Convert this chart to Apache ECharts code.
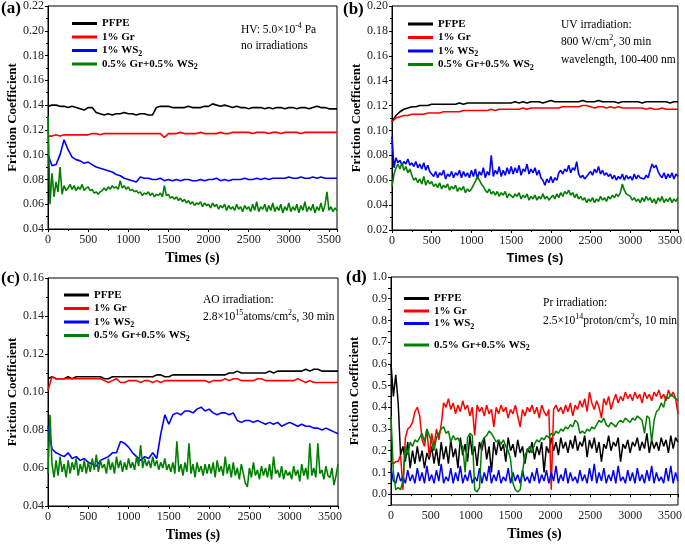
<!DOCTYPE html>
<html><head><meta charset="utf-8">
<script src="https://cdn.jsdelivr.net/npm/echarts@6/dist/echarts.min.js"></script>
<style>html,body{margin:0;padding:0;background:#fff}#c{width:685px;height:545px}</style>
</head><body><div id="c"></div>
<script>
const seriesNames = ['PFPE', '1% Gr', '1% WS2', '0.5% Gr+0.5% WS2'];
const seriesColors = ['#000000', '#ff0000', '#0000ff', '#008000'];

// sampling times (s)
const timeABC = []; for (let t = 0; t <= 3600; t += 50) timeABC.push(t);
const timeFine = []; for (let t = 0; t <= 3600; t += 25) timeFine.push(t);
const timeD = []; for (let t = 0; t <= 3600; t += 30) timeD.push(t);

// ---- panel (a): HV, no irradiation ----
const pfpeA = [0.139,0.140,0.140,0.139,0.139,0.138,0.139,0.138,0.137,0.136,
0.138,0.138,0.134,0.133,0.132,0.133,0.132,0.133,0.133,0.134,
0.133,0.133,0.132,0.133,0.133,0.132,0.132,0.138,0.139,0.139,
0.139,0.138,0.138,0.138,0.138,0.139,0.138,0.138,0.138,0.139,
0.139,0.141,0.140,0.139,0.140,0.139,0.138,0.139,0.138,0.138,
0.137,0.138,0.138,0.138,0.137,0.138,0.137,0.138,0.138,0.137,
0.138,0.138,0.137,0.138,0.138,0.137,0.138,0.139,0.138,0.138,
0.137,0.137,0.137];
const grA = [0.115,0.115,0.116,0.115,0.116,0.116,0.116,0.116,0.116,0.116,
0.116,0.117,0.117,0.116,0.117,0.117,0.117,0.117,0.117,0.117,
0.117,0.117,0.117,0.117,0.117,0.117,0.117,0.117,0.117,0.114,
0.117,0.117,0.117,0.118,0.117,0.117,0.117,0.117,0.118,0.117,
0.117,0.117,0.117,0.118,0.117,0.117,0.118,0.118,0.118,0.118,
0.118,0.117,0.118,0.118,0.118,0.117,0.118,0.118,0.117,0.118,
0.118,0.118,0.118,0.117,0.118,0.118,0.118,0.118,0.118,0.118,
0.118,0.118,0.118];
const ws2A = [0.100,0.091,0.092,0.100,0.112,0.104,0.098,0.096,0.095,0.093,
0.094,0.092,0.090,0.089,0.088,0.087,0.086,0.084,0.083,0.081,
0.080,0.079,0.078,0.082,0.081,0.081,0.080,0.080,0.081,0.079,
0.080,0.079,0.080,0.079,0.080,0.080,0.079,0.079,0.080,0.079,
0.080,0.080,0.081,0.079,0.080,0.079,0.080,0.080,0.080,0.081,
0.080,0.080,0.081,0.080,0.081,0.080,0.081,0.081,0.081,0.081,
0.082,0.081,0.081,0.082,0.081,0.081,0.082,0.081,0.082,0.081,
0.081,0.081,0.081];
const mixA = [0.131,0.060,0.085,0.066,0.078,0.070,0.090,0.068,0.075,0.071,0.073,0.076,0.072,0.075,0.071,0.074,0.072,0.076,0.071,0.073,
0.074,0.071,0.072,0.069,0.070,0.068,0.070,0.071,0.073,0.071,0.074,0.072,0.075,0.073,0.074,0.072,0.079,0.073,0.075,0.072,
0.074,0.071,0.072,0.070,0.071,0.069,0.070,0.067,0.069,0.068,0.070,0.067,0.069,0.066,0.068,0.067,0.069,0.066,0.075,0.067,
0.068,0.065,0.066,0.064,0.066,0.063,0.065,0.062,0.064,0.061,0.063,0.060,0.062,0.059,0.061,0.060,0.062,0.058,0.061,0.059,
0.060,0.057,0.061,0.058,0.060,0.056,0.059,0.057,0.060,0.055,0.059,0.056,0.058,0.055,0.060,0.056,0.058,0.054,0.059,0.056,
0.058,0.054,0.060,0.055,0.062,0.054,0.058,0.056,0.060,0.054,0.059,0.055,0.061,0.054,0.058,0.055,0.060,0.053,0.058,0.055,
0.061,0.054,0.058,0.055,0.060,0.053,0.059,0.055,0.062,0.054,0.058,0.055,0.060,0.053,0.058,0.055,0.061,0.054,0.059,0.070,
0.055,0.058,0.054,0.057,0.055];

// ---- panel (b): UV irradiation ----
const pfpeB = [0.107,0.112,0.115,0.117,0.118,0.119,0.119,0.120,0.120,0.120,
0.121,0.121,0.121,0.121,0.121,0.121,0.121,0.122,0.121,0.122,
0.122,0.122,0.122,0.122,0.122,0.122,0.122,0.122,0.122,0.122,
0.122,0.123,0.122,0.123,0.122,0.123,0.123,0.123,0.122,0.123,
0.124,0.123,0.123,0.123,0.123,0.123,0.123,0.123,0.124,0.123,
0.123,0.123,0.124,0.123,0.123,0.123,0.123,0.122,0.123,0.123,
0.123,0.123,0.123,0.122,0.123,0.123,0.123,0.123,0.123,0.123,
0.122,0.123,0.123];
const grB = [0.107,0.110,0.111,0.112,0.112,0.113,0.113,0.113,0.113,0.114,
0.114,0.114,0.114,0.115,0.115,0.115,0.115,0.115,0.116,0.116,
0.116,0.116,0.116,0.116,0.116,0.117,0.116,0.117,0.117,0.117,
0.117,0.117,0.117,0.118,0.117,0.118,0.118,0.118,0.118,0.118,
0.118,0.118,0.118,0.119,0.119,0.119,0.119,0.119,0.120,0.120,
0.119,0.118,0.119,0.119,0.118,0.119,0.118,0.119,0.118,0.118,
0.118,0.118,0.118,0.118,0.117,0.118,0.117,0.117,0.118,0.117,
0.117,0.117,0.117];
const ws2B = [0.095,0.070,0.078,0.074,0.076,0.072,0.075,0.073,0.077,0.072,0.074,0.071,0.075,0.070,0.073,0.069,0.074,0.068,0.072,0.067,
0.066,0.063,0.067,0.062,0.066,0.064,0.068,0.061,0.065,0.063,0.067,0.062,0.066,0.064,0.068,0.062,0.067,0.063,0.066,0.062,
0.068,0.063,0.069,0.061,0.067,0.064,0.070,0.062,0.067,0.064,0.080,0.063,0.068,0.065,0.071,0.063,0.068,0.064,0.070,0.065,
0.071,0.065,0.070,0.066,0.072,0.064,0.069,0.067,0.073,0.065,0.069,0.066,0.070,0.064,0.068,0.062,0.060,0.056,0.061,0.058,
0.063,0.058,0.062,0.060,0.066,0.068,0.065,0.069,0.067,0.072,0.066,0.070,0.068,0.075,0.065,0.062,0.064,0.061,0.063,0.062,
0.067,0.064,0.069,0.066,0.071,0.065,0.068,0.064,0.066,0.063,0.065,0.061,0.064,0.060,0.063,0.061,0.065,0.060,0.064,0.061,
0.063,0.060,0.065,0.061,0.064,0.062,0.063,0.061,0.064,0.062,0.068,0.073,0.070,0.072,0.067,0.064,0.062,0.066,0.061,0.065,
0.062,0.066,0.061,0.065,0.063];
const mixB = [0.055,0.065,0.070,0.073,0.069,0.074,0.068,0.071,0.066,0.069,0.064,0.060,0.062,0.058,0.061,0.057,0.063,0.056,0.060,0.057,
0.059,0.055,0.057,0.054,0.058,0.053,0.056,0.054,0.057,0.052,0.055,0.053,0.056,0.051,0.054,0.052,0.055,0.050,0.053,0.051,
0.053,0.056,0.059,0.063,0.060,0.057,0.055,0.052,0.050,0.053,0.049,0.051,0.048,0.051,0.047,0.050,0.048,0.051,0.046,0.049,
0.050,0.046,0.049,0.047,0.050,0.045,0.048,0.046,0.049,0.044,0.047,0.045,0.048,0.044,0.047,0.045,0.049,0.045,0.047,0.044,
0.046,0.048,0.045,0.049,0.046,0.050,0.047,0.051,0.049,0.052,0.048,0.050,0.046,0.049,0.045,0.047,0.044,0.046,0.042,0.045,
0.043,0.046,0.042,0.045,0.043,0.047,0.044,0.046,0.043,0.047,0.045,0.048,0.046,0.049,0.047,0.050,0.057,0.052,0.049,0.050,
0.047,0.044,0.046,0.043,0.045,0.042,0.046,0.043,0.047,0.044,0.046,0.042,0.045,0.041,0.046,0.043,0.047,0.042,0.045,0.043,
0.046,0.042,0.045,0.043,0.046];

// ---- panel (c): AO irradiation ----
const pfpeC = [0.107,0.108,0.107,0.107,0.107,0.108,0.107,0.108,0.108,0.108,
0.108,0.108,0.108,0.108,0.107,0.107,0.108,0.108,0.108,0.108,
0.108,0.108,0.108,0.108,0.108,0.108,0.108,0.109,0.109,0.108,
0.108,0.109,0.109,0.109,0.109,0.109,0.109,0.109,0.109,0.109,
0.109,0.109,0.109,0.109,0.109,0.110,0.110,0.111,0.110,0.110,
0.110,0.110,0.110,0.110,0.110,0.111,0.110,0.111,0.111,0.111,
0.111,0.111,0.111,0.111,0.112,0.111,0.112,0.112,0.111,0.111,
0.111,0.111,0.111];
const grC = [0.101,0.108,0.107,0.107,0.107,0.107,0.107,0.107,0.107,0.107,
0.107,0.107,0.107,0.107,0.106,0.105,0.106,0.107,0.105,0.105,
0.106,0.106,0.106,0.105,0.106,0.106,0.105,0.106,0.105,0.106,
0.106,0.106,0.106,0.106,0.106,0.106,0.106,0.106,0.106,0.106,
0.105,0.106,0.106,0.106,0.107,0.106,0.107,0.107,0.106,0.106,
0.106,0.106,0.107,0.107,0.106,0.106,0.106,0.106,0.106,0.106,
0.106,0.106,0.107,0.106,0.105,0.106,0.105,0.105,0.105,0.105,
0.105,0.105,0.105];
const ws2C = [0.082,0.070,0.068,0.067,0.066,0.068,0.065,0.066,0.064,0.065,
0.063,0.062,0.061,0.064,0.065,0.066,0.068,0.068,0.074,0.073,
0.071,0.068,0.066,0.064,0.066,0.065,0.068,0.065,0.078,0.088,
0.083,0.088,0.089,0.088,0.090,0.090,0.089,0.091,0.092,0.090,
0.091,0.089,0.088,0.089,0.089,0.088,0.089,0.085,0.084,0.085,
0.085,0.084,0.085,0.084,0.083,0.084,0.083,0.084,0.082,0.083,
0.084,0.083,0.082,0.083,0.082,0.082,0.081,0.081,0.080,0.081,
0.080,0.079,0.078];
const mixC = [0.057,0.088,0.062,0.055,0.064,0.056,0.066,0.058,0.062,0.055,0.064,0.057,0.063,0.059,0.065,0.056,0.062,0.058,0.064,0.057,
0.063,0.058,0.065,0.059,0.067,0.058,0.064,0.060,0.062,0.057,0.065,0.059,0.063,0.057,0.066,0.060,0.064,0.058,0.063,0.059,
0.065,0.060,0.063,0.059,0.066,0.061,0.072,0.060,0.065,0.061,0.064,0.060,0.066,0.061,0.064,0.059,0.063,0.060,0.065,0.059,
0.062,0.058,0.063,0.057,0.074,0.058,0.062,0.056,0.063,0.058,0.073,0.057,0.062,0.055,0.063,0.058,0.061,0.056,0.062,0.057,
0.062,0.057,0.063,0.055,0.064,0.058,0.061,0.056,0.066,0.057,0.062,0.055,0.063,0.056,0.060,0.054,0.062,0.057,0.052,0.050,
0.060,0.055,0.063,0.056,0.059,0.054,0.061,0.056,0.060,0.055,0.062,0.054,0.066,0.057,0.059,0.055,0.061,0.054,0.059,0.056,
0.058,0.054,0.061,0.056,0.059,0.053,0.062,0.056,0.060,0.054,0.073,0.056,0.060,0.055,0.073,0.057,0.059,0.054,0.061,0.056,
0.055,0.060,0.051,0.056,0.062];

// ---- panel (d): proton irradiation ----
const pfpeD = [0.60,0.45,0.55,0.42,0.18,0.22,0.15,0.24,0.12,0.20,
0.14,0.22,0.15,0.20,0.12,0.19,0.16,0.22,0.14,0.21,
0.13,0.24,0.16,0.22,0.14,0.25,0.17,0.21,0.12,0.26,
0.18,0.23,0.15,0.27,0.18,0.22,0.13,0.24,0.20,0.26,
0.16,0.22,0.10,0.24,0.18,0.25,0.20,0.23,0.15,0.26,
0.20,0.23,0.17,0.25,0.19,0.22,0.14,0.21,0.19,0.24,
0.16,0.22,0.18,0.24,0.10,0.22,0.19,0.26,0.20,0.24,
0.18,0.26,0.21,0.24,0.19,0.25,0.21,0.27,0.20,0.24,
0.22,0.27,0.17,0.25,0.21,0.26,0.19,0.24,0.15,0.23,
0.21,0.27,0.20,0.24,0.22,0.26,0.15,0.23,0.21,0.25,
0.19,0.24,0.22,0.26,0.20,0.24,0.21,0.28,0.19,0.25,
0.21,0.24,0.20,0.26,0.22,0.25,0.19,0.27,0.21,0.26,
0.24];
const grD = [0.15,0.14,0.15,0.15,0.18,0.02,0.26,0.30,0.31,0.33,
0.38,0.40,0.36,0.25,0.22,0.30,0.17,0.28,0.22,0.30,
0.25,0.32,0.42,0.40,0.44,0.39,0.42,0.37,0.41,0.38,
0.43,0.39,0.41,0.36,0.40,0.27,0.41,0.38,0.40,0.36,
0.41,0.37,0.39,0.31,0.40,0.37,0.41,0.38,0.40,0.35,
0.39,0.37,0.41,0.36,0.31,0.39,0.36,0.40,0.38,0.41,
0.37,0.40,0.35,0.41,0.38,0.36,0.39,0.02,0.39,0.41,
0.38,0.40,0.37,0.41,0.38,0.42,0.36,0.41,0.39,0.43,
0.40,0.44,0.38,0.47,0.42,0.39,0.43,0.40,0.35,0.44,
0.41,0.45,0.39,0.43,0.46,0.42,0.45,0.43,0.47,0.44,
0.46,0.43,0.47,0.44,0.46,0.42,0.47,0.44,0.46,0.43,
0.47,0.45,0.48,0.44,0.46,0.43,0.48,0.45,0.47,0.44,
0.37];
const ws2D = [0.12,0.06,0.05,0.10,0.06,0.08,0.05,0.11,0.06,0.09,
0.05,0.12,0.06,0.10,0.05,0.13,0.06,0.09,0.05,0.11,
0.06,0.14,0.05,0.08,0.06,0.12,0.05,0.10,0.06,0.13,
0.05,0.09,0.06,0.11,0.05,0.08,0.06,0.12,0.05,0.10,
0.06,0.13,0.05,0.09,0.06,0.11,0.05,0.08,0.06,0.12,
0.05,0.10,0.06,0.09,0.05,0.11,0.06,0.08,0.05,0.10,
0.06,0.12,0.05,0.09,0.06,0.11,0.05,0.10,0.06,0.13,
0.05,0.09,0.06,0.12,0.05,0.10,0.06,0.08,0.05,0.11,
0.06,0.09,0.05,0.12,0.06,0.14,0.05,0.10,0.06,0.12,
0.05,0.09,0.06,0.11,0.05,0.13,0.06,0.08,0.05,0.11,
0.06,0.10,0.05,0.12,0.06,0.09,0.05,0.11,0.06,0.13,
0.05,0.10,0.06,0.08,0.05,0.12,0.06,0.13,0.05,0.10,
0.06];
const mixD = [0.36,0.10,0.02,0.03,0.02,0.06,0.22,0.18,0.24,0.22,
0.25,0.24,0.26,0.28,0.24,0.30,0.27,0.24,0.20,0.26,
0.28,0.30,0.31,0.28,0.29,0.24,0.27,0.25,0.26,0.23,
0.22,0.10,0.26,0.28,0.27,0.02,0.01,0.03,0.24,0.26,
0.27,0.29,0.28,0.26,0.24,0.25,0.23,0.25,0.22,0.20,
0.16,0.05,0.02,0.01,0.02,0.10,0.18,0.20,0.22,0.19,
0.23,0.25,0.24,0.26,0.25,0.27,0.26,0.28,0.27,0.29,
0.28,0.30,0.29,0.31,0.30,0.32,0.31,0.34,0.33,0.28,
0.29,0.28,0.30,0.29,0.31,0.30,0.32,0.34,0.33,0.35,
0.32,0.31,0.33,0.32,0.31,0.33,0.34,0.33,0.35,0.34,
0.33,0.35,0.34,0.36,0.35,0.34,0.28,0.36,0.35,0.24,
0.34,0.38,0.39,0.42,0.40,0.45,0.44,0.46,0.45,0.44,
0.43];

// axis settings per panel
const yMins = [0.04, 0.02, 0.04, -0.05];
const yMaxs = [0.22, 0.20, 0.16, 1.0];
const yIntervals = [0.02, 0.02, 0.02, 0.05];
const xTickStep = 500;
const xMax = 3600;

const panelTimes = [
  [timeABC, timeABC, timeABC, timeFine],
  [timeABC, timeABC, timeFine, timeFine],
  [timeABC, timeABC, timeABC, timeFine],
  [timeD, timeD, timeD, timeD]
];
const panelData = [[pfpeA, grA, ws2A, mixA], [pfpeB, grB, ws2B, mixB], [pfpeC, grC, ws2C, mixC], [pfpeD, grD, ws2D, mixD]];

const grids = [
  {left: 48, top: 5, width: 289, height: 224},
  {left: 392, top: 6, width: 290, height: 224},
  {left: 48, top: 278, width: 290, height: 228},
  {left: 391, top: 277, width: 290, height: 228}
];
const yNameGaps = [28, 27, 28, 30];

const SERIF = '"Liberation Serif", "Times New Roman", serif';
const SANS = '"Liberation Sans", Arial, sans-serif';

const xAxes = [], yAxes = [], series = [];
for (let p = 0; p < 4; p++) {
  xAxes.push({
    type: 'value', gridIndex: p, min: 0, max: xMax, interval: xTickStep,
    name: 'Times (s)', nameLocation: 'middle', nameGap: 22,
    nameTextStyle: {fontFamily: p === 1 ? SANS : SERIF, fontWeight: 'bold', fontSize: p === 1 ? 13 : 14, color: '#000'},
    axisLine: {lineStyle: {color: '#000', width: 1}},
    axisTick: {length: 3, lineStyle: {color: '#000'}},
    minorTick: {show: true, splitNumber: 2, length: 2, lineStyle: {color: '#000'}},
    splitLine: {show: false},
    axisLabel: {fontFamily: SERIF, fontSize: 12, color: '#222', margin: 5, showMaxLabel: false,
      formatter: function (v) { return String(v); }}
  });
  const isD = p === 3;
  yAxes.push({
    type: 'value', gridIndex: p, min: yMins[p], max: yMaxs[p], interval: yIntervals[p],
    name: 'Friction Coefficient', nameLocation: 'middle', nameGap: yNameGaps[p],
    nameTextStyle: {fontFamily: SERIF, fontWeight: 'bold', fontSize: 13, color: '#000'},
    axisLine: {lineStyle: {color: '#000', width: 1}},
    axisTick: {length: 3, lineStyle: {color: '#000'}},
    minorTick: {show: !isD, splitNumber: 2, length: 2, lineStyle: {color: '#000'}},
    splitLine: {show: false},
    axisLabel: {
      fontFamily: SERIF, fontSize: 12, color: '#222', margin: 4,
      formatter: isD
        ? function (v) { const r = Math.round(v * 100); if (r < 0 || r % 10 !== 0) return ''; return (r / 100).toFixed(1); }
        : function (v) { return v.toFixed(2); }
    }
  });
  for (let k = 0; k < 4; k++) {
    const ts = panelTimes[p][k], vs = panelData[p][k];
    series.push({
      type: 'line', name: seriesNames[k], xAxisIndex: p, yAxisIndex: p,
      data: ts.map((t, i) => [t, vs[i]]),
      showSymbol: false, symbol: 'none', color: seriesColors[k],
      lineStyle: {width: isD ? 1.5 : 1.6, color: seriesColors[k]},
      animation: false
    });
  }
}

const legendText = {
  fontFamily: SERIF, fontWeight: 'bold', fontSize: 11, color: '#000', lineHeight: 14,
  rich: {sub: {fontFamily: SERIF, fontWeight: 'bold', fontSize: 8, lineHeight: 8, verticalAlign: 'bottom', color: '#000'}}
};
function legendFmt(name) { return name.replace(/WS2$/, 'WS{sub|2}'); }
function mkLegend(data, left, top, gap) {
  return {data: data, left: left, top: top, orient: 'vertical', icon: 'rect', itemWidth: 25, itemHeight: 3,
    itemGap: gap, padding: 0, textStyle: legendText, formatter: legendFmt, selectedMode: false};
}

const annRich = {sup: {fontFamily: SERIF, fontSize: 8, lineHeight: 8, verticalAlign: 'top', fill: '#000'}};
function ann(text, x, y) {
  return {type: 'text', left: x, top: y, style: {text: text, fontFamily: SERIF, fontSize: 11.5, lineHeight: 16, fill: '#000', rich: annRich}};
}
function lbl(text, x, y) {
  return {type: 'text', left: x, top: y, style: {text: text, fontFamily: SERIF, fontWeight: 'bold', fontSize: 17, fill: '#000'}};
}

const chart = echarts.init(document.getElementById('c'), null, {renderer: 'canvas'});
chart.setOption({
  animation: false,
  backgroundColor: '#fff',
  grid: grids.map(g => Object.assign({show: true, borderColor: '#000', borderWidth: 1, backgroundColor: 'transparent'}, g)),
  xAxis: xAxes,
  yAxis: yAxes,
  legend: [
    mkLegend(seriesNames, 72, 16.5, -0.5),
    mkLegend(seriesNames, 408, 17, -0.5),
    mkLegend(seriesNames, 64, 288, -0.5),
    mkLegend(seriesNames.slice(0, 3), 404, 291.5, -1.5),
    mkLegend([seriesNames[3]], 404, 338, 0)
  ],
  graphic: [
    lbl('(a)', 1, 0), lbl('(b)', 343, 1), lbl('(c)', 1, 270), lbl('(d)', 346, 269),
    ann('HV: 5.0×10{sup|-4} Pa', 241, 22),
    ann('no irradiations', 241, 38),
    ann('UV irradiation:', 561, 17),
    ann('800 W/cm{sup|2}, 30 min', 561, 34),
    ann('wavelength, 100-400 nm', 561, 52),
    ann('AO irradiation:', 203, 292),
    ann('2.8×10{sup|15}atoms/cm{sup|2}s, 30 min', 203, 309),
    ann('Pr irradiation:', 543, 295),
    ann('2.5×10{sup|14}proton/cm{sup|2}s, 10 min', 543, 313)
  ],
  series: series
});
</script>
</body></html>
